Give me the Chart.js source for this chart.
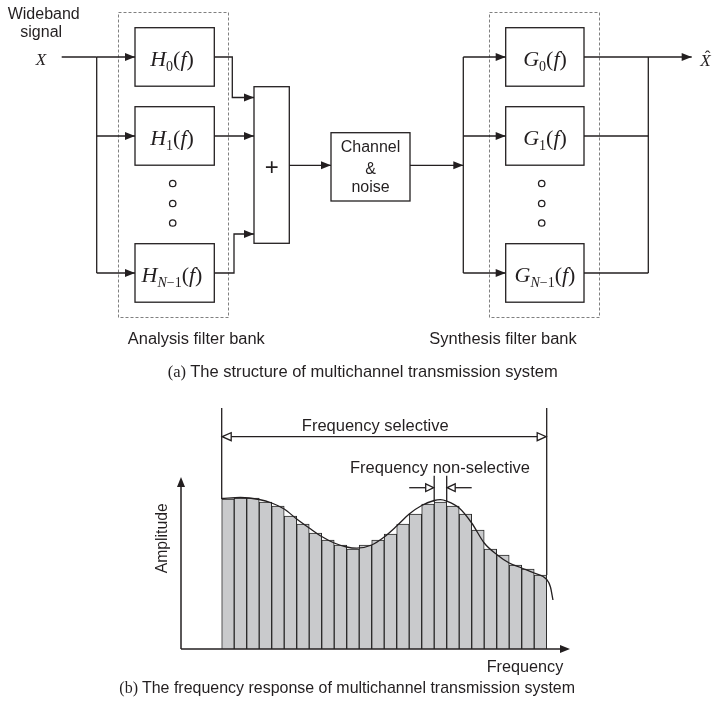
<!DOCTYPE html>
<html>
<head>
<meta charset="utf-8">
<title>Multichannel transmission system</title>
<script src="https://cdn.jsdelivr.net/npm/chart.js@4.4.0/dist/chart.umd.min.js"></script>
<style>
  html, body { margin: 0; padding: 0; background: #fff; }
  canvas { display: block; }
</style>
</head>
<body>
<canvas id="chart" width="712" height="701"></canvas>
<script>
// sub-band centres (one bar per channel) and the sampled amplitude of each
const bandCentres = [1, 2, 3, 4, 5, 6, 7, 8, 9, 10, 11, 12, 13, 14, 15, 16, 17, 18, 19, 20, 21, 22, 23, 24, 25, 26];
const bandAmplitude = [150, 151, 151, 147, 143, 133, 125, 116, 109, 104, 100, 104, 109, 115, 125, 135, 145, 147, 143, 135, 119, 100, 94, 84, 80, 74];

// continuous channel response drawn over the bars
const curveFreq = [0.5, 2, 3.5, 4.5, 5.5, 6.5, 7.5, 8.5, 9.5, 10.5, 11.3, 12.5, 13.5, 14.5, 15.5, 16.5, 17.5, 18, 18.5, 19.5, 20.5, 21.5, 22.5, 23.5, 24.5, 25.5, 26.5, 26.8, 27];
const curveAmplitude = [150.5, 151.5, 149.5, 146, 140, 130, 121, 112.5, 106, 102, 100.8, 104, 112, 123, 135, 143.5, 148.5, 149.3, 147.8, 141, 126, 106, 94.5, 86, 81, 76, 69.5, 62, 49];

// band edges used by the two dimension arrows
const selectiveBand = [0.5, 26.5];
const nonSelectiveBand = [17.5, 18.5];

const INK = '#231f20';
const SANS = '"Liberation Sans", Arial, sans-serif';
const SERIF = '"Liberation Serif", "Times New Roman", serif';

function seg(ctx, pts) {
  ctx.beginPath();
  ctx.moveTo(pts[0][0], pts[0][1]);
  for (let i = 1; i < pts.length; i++) ctx.lineTo(pts[i][0], pts[i][1]);
  ctx.stroke();
}

// arrow head with tip at (x, y); ang 0 = pointing right
function head(ctx, x, y, ang, open, len, half) {
  len = len || 10; half = half || 4;
  const c = Math.cos(ang), s = Math.sin(ang);
  ctx.beginPath();
  ctx.moveTo(x, y);
  ctx.lineTo(x - len * c - half * s, y - len * s + half * c);
  ctx.lineTo(x - len * c + half * s, y - len * s - half * c);
  ctx.closePath();
  if (open) {
    ctx.save(); ctx.fillStyle = '#fff'; ctx.fill(); ctx.restore();
    ctx.stroke();
  } else {
    ctx.fill();
  }
}

function arrow(ctx, pts) {
  seg(ctx, pts);
  const a = pts[pts.length - 2], b = pts[pts.length - 1];
  head(ctx, b[0], b[1], Math.atan2(b[1] - a[1], b[0] - a[0]));
}

// centred text, optionally squeezed/stretched to a given width
function text(ctx, str, cx, base, font, width) {
  ctx.save();
  ctx.font = font;
  ctx.textAlign = 'left';
  ctx.textBaseline = 'alphabetic';
  const w = ctx.measureText(str).width;
  const k = width ? width / w : 1;
  ctx.translate(cx - (w * k) / 2, base);
  ctx.scale(k, 1);
  ctx.fillText(str, 0, 0);
  ctx.restore();
}

// caption with a serif "(a)" tag followed by sans text
function caption(ctx, tag, str, cx, base, size, width) {
  ctx.save();
  ctx.textBaseline = 'alphabetic';
  ctx.font = size + 'px ' + SERIF;
  const w1 = ctx.measureText(tag + ' ').width;
  ctx.font = size + 'px ' + SANS;
  const w2 = ctx.measureText(str).width;
  const k = width / (w1 + w2);
  ctx.translate(cx - width / 2, base);
  ctx.scale(k, 1);
  ctx.font = size + 'px ' + SERIF;
  ctx.fillText(tag, 0, 0);
  ctx.font = size + 'px ' + SANS;
  ctx.fillText(str, w1, 0);
  ctx.restore();
}

// H_0(f) style label: italic letter, subscript, (f)
function filterLabel(ctx, letter, sub, cx, base) {
  const big = 22, small = 14;
  const parts = [{ t: letter, f: 'italic ' + big + 'px ' + SERIF, dy: 0 }];
  if (sub === 'N-1') {
    parts.push({ t: 'N', f: 'italic ' + small + 'px ' + SERIF, dy: 5 });
    parts.push({ t: '\u22121', f: small + 'px ' + SERIF, dy: 5 });
  } else {
    parts.push({ t: sub, f: small + 'px ' + SERIF, dy: 5 });
  }
  parts.push({ t: '(', f: big + 'px ' + SERIF, dy: 0 });
  parts.push({ t: 'f', f: 'italic ' + big + 'px ' + SERIF, dy: 0 });
  parts.push({ t: ')', f: big + 'px ' + SERIF, dy: 0 });
  ctx.save();
  ctx.textBaseline = 'alphabetic';
  let total = 0;
  parts.forEach(p => { ctx.font = p.f; p.w = ctx.measureText(p.t).width; total += p.w; });
  let x = cx - total / 2;
  parts.forEach(p => { ctx.font = p.f; ctx.fillText(p.t, x, base + p.dy); x += p.w; });
  ctx.restore();
}

function dots(ctx, x) {
  [183.5, 203.5, 223].forEach(y => {
    ctx.beginPath();
    ctx.arc(x, y, 3.2, 0, Math.PI * 2);
    ctx.stroke();
  });
}

function drawStructure(ctx) {
  ctx.save();
  ctx.strokeStyle = INK;
  ctx.fillStyle = INK;
  ctx.lineWidth = 1.3;

  // dashed frames around both filter banks
  ctx.save();
  ctx.strokeStyle = '#808080';
  ctx.lineWidth = 1;
  ctx.setLineDash([3, 2]);
  ctx.strokeRect(118.5, 12.5, 110, 305);
  ctx.strokeRect(489.5, 12.5, 110, 305);
  ctx.restore();

  const rows = [57, 136, 273];
  const subs = ['0', '1', 'N-1'];

  // analysis bank
  rows.forEach((y, i) => {
    ctx.strokeRect(135, y - 29.3, 79.3, 58.5);
    filterLabel(ctx, 'H', subs[i], 172, y + 8.5);
  });
  seg(ctx, [[61.7, 57], [96.7, 57]]);
  arrow(ctx, [[96.7, 57], [135, 57]]);
  seg(ctx, [[96.7, 57], [96.7, 273]]);
  arrow(ctx, [[96.7, 136], [135, 136]]);
  arrow(ctx, [[96.7, 273], [135, 273]]);
  dots(ctx, 172.7);

  // into the adder
  arrow(ctx, [[214.3, 57], [232.3, 57], [232.3, 97.5], [254, 97.5]]);
  arrow(ctx, [[214.3, 136], [254, 136]]);
  arrow(ctx, [[214.3, 273], [234, 273], [234, 234], [254, 234]]);
  ctx.strokeRect(254, 86.7, 35.3, 156.6);
  text(ctx, '+', 271.7, 174.5, '24px ' + SANS);

  // channel
  arrow(ctx, [[289.3, 165.3], [331, 165.3]]);
  ctx.strokeRect(331, 132.7, 79, 68.3);
  text(ctx, 'Channel', 370.5, 152.3, '16px ' + SANS);
  text(ctx, '&', 370.5, 173.5, '16px ' + SANS);
  text(ctx, 'noise', 370.5, 191.5, '16px ' + SANS);
  arrow(ctx, [[410, 165.3], [463.3, 165.3]]);

  // synthesis bank
  seg(ctx, [[463.3, 57], [463.3, 273]]);
  rows.forEach((y, i) => {
    arrow(ctx, [[463.3, y], [505.7, y]]);
    ctx.strokeRect(505.7, y - 29.3, 78.3, 58.5);
    filterLabel(ctx, 'G', subs[i], 545, y + 8.5);
  });
  dots(ctx, 541.7);
  seg(ctx, [[584, 136], [648.3, 136]]);
  seg(ctx, [[584, 273], [648.3, 273]]);
  seg(ctx, [[648.3, 57], [648.3, 273]]);
  arrow(ctx, [[584, 57], [691.7, 57]]);

  // signal names
  text(ctx, 'Wideband', 43.7, 19, '16px ' + SANS);
  text(ctx, 'signal', 41.2, 37, '16px ' + SANS);
  text(ctx, 'X', 41, 65, 'italic 17px ' + SERIF);
  text(ctx, 'X', 705.5, 66, 'italic 17px ' + SERIF);
  text(ctx, '\u02C6', 707.5, 62, '17px ' + SERIF);

  text(ctx, 'Analysis filter bank', 196.3, 344.3, '16px ' + SANS, 137);
  text(ctx, 'Synthesis filter bank', 503, 344.3, '16px ' + SANS, 147.4);
  caption(ctx, '(a)', 'The structure of multichannel transmission system', 362.7, 376.5, 17, 390);
  ctx.restore();
}

function drawResponseDecor(chart) {
  const ctx = chart.ctx;
  const xs = chart.scales.x, ys = chart.scales.y;
  const area = chart.chartArea;
  ctx.save();
  ctx.strokeStyle = INK;
  ctx.fillStyle = INK;

  // axes with arrow heads
  ctx.lineWidth = 1.5;
  seg(ctx, [[area.left, area.bottom], [area.left, area.top + 6]]);
  head(ctx, area.left, area.top - 2, -Math.PI / 2, false, 10, 4);
  seg(ctx, [[area.left, area.bottom], [area.right - 6, area.bottom]]);
  head(ctx, area.right, area.bottom, 0, false, 10, 4);

  // frequency selective span
  ctx.lineWidth = 1.3;
  const sx0 = xs.getPixelForValue(selectiveBand[0]);
  const sx1 = xs.getPixelForValue(selectiveBand[1]);
  seg(ctx, [[sx0, 408], [sx0, ys.getPixelForValue(bandAmplitude[0])]]);
  seg(ctx, [[sx1, 408], [sx1, ys.getPixelForValue(bandAmplitude[bandAmplitude.length - 1])]]);
  const ay = 436.7;
  seg(ctx, [[sx0 + 8, ay], [sx1 - 8, ay]]);
  head(ctx, sx0 + 0.5, ay, Math.PI, true, 9, 4);
  head(ctx, sx1 - 0.5, ay, 0, true, 9, 4);
  text(ctx, 'Frequency selective', (sx0 + sx1) / 2 - 9, 430.5, '16px ' + SANS, 146.7);

  // frequency non-selective (one sub-band)
  const nx0 = xs.getPixelForValue(nonSelectiveBand[0]);
  const nx1 = xs.getPixelForValue(nonSelectiveBand[1]);
  const peak = ys.getPixelForValue(bandAmplitude[17]);
  seg(ctx, [[nx0, 475.7], [nx0, peak]]);
  seg(ctx, [[nx1, 475.7], [nx1, peak]]);
  const by = 487.7;
  seg(ctx, [[nx0 - 25, by], [nx0 - 8, by]]);
  head(ctx, nx0 - 0.5, by, 0, true, 8, 3.8);
  seg(ctx, [[nx1 + 25, by], [nx1 + 8, by]]);
  head(ctx, nx1 + 0.5, by, Math.PI, true, 8, 3.8);
  text(ctx, 'Frequency non-selective', 440, 473.3, '16px ' + SANS, 180);

  // axis titles and caption
  ctx.save();
  ctx.translate(166.5, 538.3);
  ctx.rotate(-Math.PI / 2);
  text(ctx, 'Amplitude', 0, 0, '16px ' + SANS, 70);
  ctx.restore();
  text(ctx, 'Frequency', 525, 671.5, '16px ' + SANS, 76.6);
  caption(ctx, '(b)', 'The frequency response of multichannel transmission system', 347.2, 693.3, 17, 455.7);
  ctx.restore();
}

const decor = {
  id: 'decor',
  afterDraw(chart) {
    drawStructure(chart.ctx);
    drawResponseDecor(chart);
  }
};

new Chart(document.getElementById('chart'), {
  data: {
    datasets: [
      {
        type: 'line',
        order: 0,
        data: curveFreq.map((x, i) => ({ x, y: curveAmplitude[i] })),
        borderColor: INK,
        borderWidth: 1.3,
        pointRadius: 0,
        fill: false,
        cubicInterpolationMode: 'monotone',
        clip: false
      },
      {
        type: 'bar',
        order: 1,
        data: bandCentres.map((x, i) => ({ x, y: bandAmplitude[i] })),
        backgroundColor: '#c9cacc',
        borderColor: '#2a2a2a',
        borderWidth: 1,
        barPercentage: 1,
        categoryPercentage: 1
      }
    ]
  },
  options: {
    responsive: false,
    animation: false,
    layout: { padding: { left: 181, right: 142, top: 479, bottom: 52 } },
    plugins: { legend: { display: false }, tooltip: { enabled: false } },
    scales: {
      x: { type: 'linear', offset: false, min: -2.756, max: 28.364, display: false },
      y: { min: 0, max: 170, display: false }
    }
  },
  plugins: [decor]
});
</script>
</body>
</html>
